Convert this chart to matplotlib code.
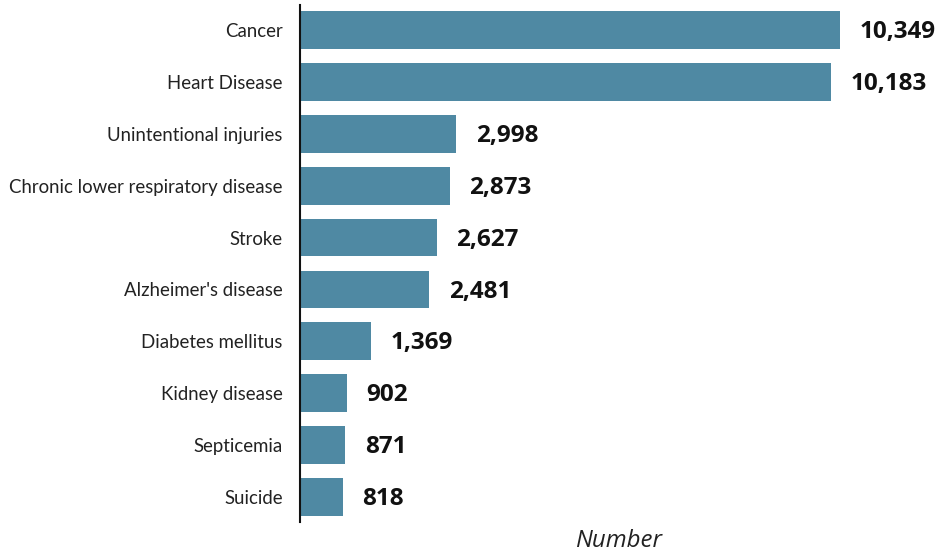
import matplotlib
matplotlib.use("Agg")
import matplotlib.pyplot as plt

causes = ["Cancer", "Heart Disease", "Unintentional injuries",
          "Chronic lower respiratory disease", "Stroke", "Alzheimer's disease",
          "Diabetes mellitus", "Kidney disease", "Septicemia", "Suicide"]
deaths = [10349, 10183, 2998, 2873, 2627, 2481, 1369, 902, 871, 818]

bar_color = "#4f89a3"

fig = plt.figure(figsize=(9.39, 5.56), dpi=100)
ax = fig.add_axes([300 / 939, 34 / 556, 639 / 939, 517 / 556])

y = list(range(len(causes)))
ax.barh(y, deaths, height=0.73, color=bar_color)
ax.set_ylim(len(causes) - 0.52, -0.48)
ax.set_xlim(0, 12246)

ax.set_yticks(y)
ax.set_yticklabels(causes, fontfamily="Lato", fontsize=13.4, color="#222222")
ax.tick_params(axis="y", length=0, pad=12.5)
ax.set_xticks([])

for s in ["top", "right", "bottom"]:
    ax.spines[s].set_visible(False)
ax.spines["left"].set_linewidth(1.5)
ax.spines["left"].set_color("#111111")

for yi, v in zip(y, deaths):
    ax.annotate(f"{v:,}", xy=(v, yi), xytext=(14, -1.5), textcoords="offset points",
                va="center", ha="left", fontfamily="Open Sans", fontweight="bold",
                fontsize=17.5, color="#111111")

fig.text(619 / 939, 1 - 541 / 556, "Number", ha="center", va="center",
         fontfamily="Open Sans", fontstyle="italic", fontsize=17.3, color="#222222")

fig.savefig("out.png", dpi=100)
